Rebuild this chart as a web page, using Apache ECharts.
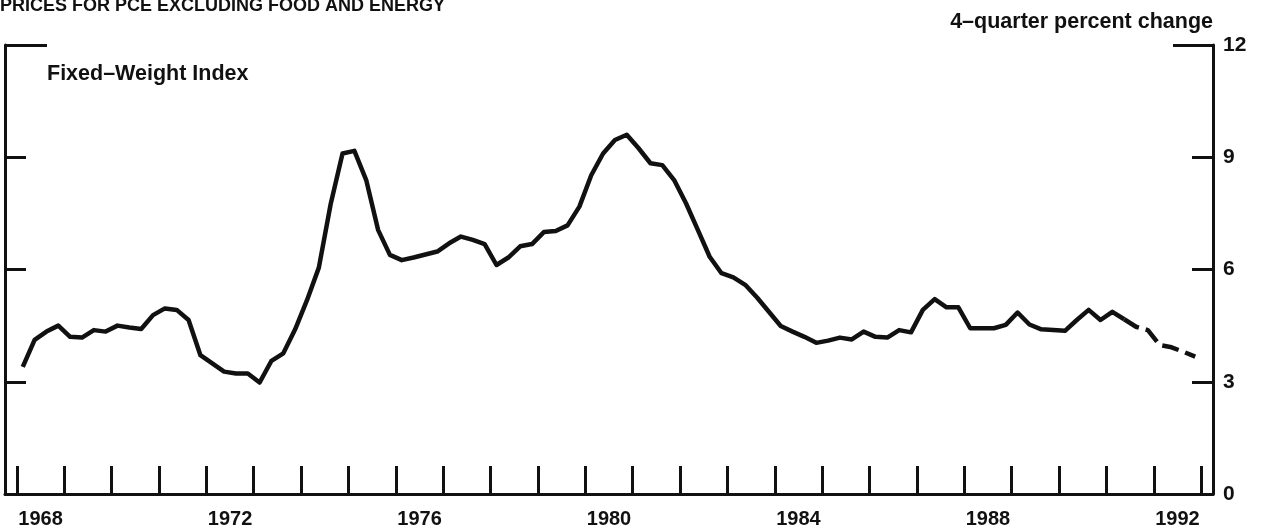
<!DOCTYPE html>
<html>
<head>
<meta charset="utf-8">
<title>Prices for PCE excluding food and energy</title>
<script src="https://cdn.jsdelivr.net/npm/echarts@6/dist/echarts.min.js"></script>
<style>
  html, body { margin: 0; padding: 0; background: #fff; }
  #main { width: 1262px; height: 531px; }
</style>
</head>
<body>
<div id="main"></div>
<script>
// quarterly data, first point is 1968 Q1
var startYear = 1968
// 4-quarter percent change, actual (1968Q1 - 1991Q2)
var pceActual = [
  3.40, 4.12, 4.34, 4.50, 4.20, 4.18, 4.38, 4.34, 4.50, 4.45,
  4.41, 4.78, 4.96, 4.92, 4.65, 3.71, 3.49, 3.27, 3.22, 3.22,
  2.98, 3.56, 3.76, 4.40, 5.18, 6.05, 7.75, 9.10, 9.17, 8.39,
  7.06, 6.39, 6.25, 6.32, 6.40, 6.48, 6.70, 6.88, 6.79, 6.68,
  6.12, 6.32, 6.62, 6.68, 7.00, 7.03, 7.18, 7.68, 8.52, 9.10,
  9.46, 9.60, 9.24, 8.84, 8.79, 8.39, 7.77, 7.06, 6.34, 5.90,
  5.79, 5.59, 5.25, 4.87, 4.49, 4.34, 4.20, 4.04, 4.10, 4.18,
  4.13, 4.34, 4.20, 4.18, 4.38, 4.32, 4.92, 5.21, 4.99, 4.99,
  4.43, 4.43, 4.43, 4.52, 4.85, 4.53, 4.40, 4.38, 4.36, 4.65,
  4.92, 4.65, 4.87, 4.67
]
// projection (1991Q2 - 1992Q4), starts at the last actual quarter
var pceProjected = [4.67, 4.47, 4.38, 3.98, 3.92, 3.80, 3.67]
var yearTicks = [1968, 1969, 1970, 1971, 1972, 1973, 1974, 1975, 1976, 1977, 1978, 1979, 1980,
  1981, 1982, 1983, 1984, 1985, 1986, 1987, 1988, 1989, 1990, 1991, 1992, 1993]
var yearLabels = [1968, 1972, 1976, 1980, 1984, 1988, 1992]
var yTicks = [3, 6, 9]
var yLabels = [0, 3, 6, 9, 12]

// quarter index -> position on the time axis (middle of the quarter)
function qTime(i) {
  return startYear + (i + 0.5) / 4
}
var actualData = pceActual.map(function (v, i) { return [qTime(i), v] })
var offset = pceActual.length - 1
var projData = pceProjected.map(function (v, i) { return [qTime(offset + i), v] })

var font = '"Liberation Sans", Arial, sans-serif'
var ink = '#111'

function sideAxis(pos, ticks, len, showLine, showLabel) {
  return {
    type: 'value',
    position: pos,
    min: 0,
    max: 12,
    interval: 3,
    axisLine: { show: showLine, lineStyle: { color: ink, width: 3 } },
    axisTick: { show: true, inside: true, length: len, customValues: ticks, lineStyle: { color: ink, width: 3 } },
    axisLabel: {
      show: showLabel,
      customValues: yLabels,
      margin: 10,
      color: ink,
      fontFamily: font,
      fontSize: 21,
      fontWeight: 'bold'
    },
    splitLine: { show: false }
  }
}

var chart = echarts.init(document.getElementById('main'), null, { renderer: 'canvas' })
var option = {
  animation: false,
  backgroundColor: '#fff',
  title: [
    {
      text: 'PRICES FOR PCE EXCLUDING FOOD AND ENERGY',
      left: 0,
      top: -3,
      padding: 0,
      textStyle: { fontFamily: font, fontSize: 18, fontWeight: 'bold', color: ink }
    },
    {
      text: '4\u2013quarter percent change',
      right: 49,
      top: 11,
      padding: 0,
      textStyle: { fontFamily: font, fontSize: 21.5, fontWeight: 'bold', color: ink }
    },
    {
      text: 'Fixed\u2013Weight Index',
      left: 47,
      top: 63,
      padding: 0,
      textStyle: { fontFamily: font, fontSize: 21.5, fontWeight: 'bold', color: ink }
    }
  ],
  grid: {
    left: 5,
    right: 49,
    top: 45,
    bottom: 37,
    outerBoundsMode: 'none'
  },
  xAxis: {
    type: 'value',
    min: 1967.75,
    max: 1993.25,
    axisLine: { show: true, lineStyle: { color: ink, width: 3 } },
    axisTick: { show: true, inside: true, length: 28, customValues: yearTicks, lineStyle: { color: ink, width: 3 } },
    axisLabel: {
      customValues: yearLabels.map(function (y) { return y + 0.5 }),
      formatter: function (v) { return String(Math.floor(v)) },
      margin: 15,
      color: ink,
      fontFamily: font,
      fontSize: 20,
      fontWeight: 'bold'
    },
    splitLine: { show: false }
  },
  yAxis: [
    sideAxis('left', yTicks, 21, true, false),
    sideAxis('left', [12], 42, false, false),
    sideAxis('right', yTicks, 21, true, true),
    sideAxis('right', [12], 40, false, false)
  ],
  series: [
    {
      name: 'Actual',
      type: 'line',
      data: actualData,
      showSymbol: false,
      lineStyle: { color: ink, width: 4.5, join: 'round' },
      z: 5
    },
    {
      name: 'Projected',
      type: 'line',
      data: projData,
      showSymbol: false,
      lineStyle: { color: ink, width: 4.5, type: [17, 7] },
      z: 5
    }
  ]
}
chart.setOption(option)
</script>
</body>
</html>
